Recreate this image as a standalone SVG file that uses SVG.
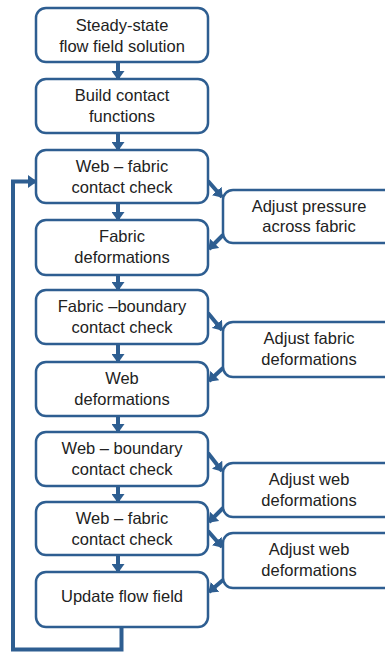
<svg xmlns="http://www.w3.org/2000/svg" width="385" height="652" viewBox="0 0 385 652">
<defs>
<style>
.box{fill:#fff;stroke:#2E5E91;stroke-width:2.5}
.t{font-family:"Liberation Sans",Arial,sans-serif;font-size:16.5px;fill:#222;text-anchor:middle}
.c{fill:none;stroke:#2E5E91;stroke-width:4}
</style>
<marker id="ah" markerUnits="userSpaceOnUse" markerWidth="9" markerHeight="13" viewBox="0 0 9 13" refX="8" refY="6.5" orient="auto">
<path d="M0,0 L9,6.5 L0,13 z" fill="#2E5E91"/>
</marker>
</defs>
<rect width="385" height="652" fill="#fff"/>
<g id="connectors">
<line class="c" x1="118" y1="62" x2="118" y2="79" marker-end="url(#ah)"/>
<line class="c" x1="118" y1="133" x2="118" y2="150" marker-end="url(#ah)"/>
<line class="c" x1="118" y1="203" x2="118" y2="220" marker-end="url(#ah)"/>
<line class="c" x1="118" y1="275" x2="118" y2="290" marker-end="url(#ah)"/>
<line class="c" x1="118" y1="344" x2="118" y2="362" marker-end="url(#ah)"/>
<line class="c" x1="118" y1="416" x2="118" y2="432" marker-end="url(#ah)"/>
<line class="c" x1="118" y1="486" x2="118" y2="502" marker-end="url(#ah)"/>
<line class="c" x1="118" y1="555" x2="118" y2="572" marker-end="url(#ah)"/>
<line class="c" x1="208" y1="181" x2="222" y2="197" marker-end="url(#ah)"/>
<line class="c" x1="223" y1="235" x2="209" y2="249" marker-end="url(#ah)"/>
<line class="c" x1="208" y1="313" x2="222" y2="330" marker-end="url(#ah)"/>
<line class="c" x1="223" y1="368" x2="209" y2="381" marker-end="url(#ah)"/>
<line class="c" x1="208" y1="453" x2="222" y2="471" marker-end="url(#ah)"/>
<line class="c" x1="223" y1="508" x2="209" y2="522" marker-end="url(#ah)"/>
<line class="c" x1="208" y1="531" x2="222" y2="547" marker-end="url(#ah)"/>
<line class="c" x1="223" y1="580" x2="209" y2="592" marker-end="url(#ah)"/>
<path class="c" d="M121.5,627 V649.5 H13 V181.5 H36" marker-end="url(#ah)"/>
</g>
<g id="n1"><rect class="box" x="36" y="8" width="172" height="54" rx="10"/><text class="t" x="122" y="31">Steady-state</text><text class="t" x="122" y="52">flow field solution</text></g>
<g id="n2"><rect class="box" x="36" y="79" width="172" height="54" rx="10"/><text class="t" x="122" y="101">Build contact</text><text class="t" x="122" y="122">functions</text></g>
<g id="n3"><rect class="box" x="36" y="150" width="172" height="53" rx="10"/><text class="t" x="122" y="171.5">Web – fabric</text><text class="t" x="122" y="192.5">contact check</text></g>
<g id="n4"><rect class="box" x="36" y="220" width="172" height="55" rx="10"/><text class="t" x="122" y="241.5">Fabric</text><text class="t" x="122" y="262.5">deformations</text></g>
<g id="n5"><rect class="box" x="36" y="290" width="172" height="54" rx="10"/><text class="t" x="122" y="311.5">Fabric –boundary</text><text class="t" x="122" y="332.5">contact check</text></g>
<g id="n6"><rect class="box" x="36" y="362" width="172" height="54" rx="10"/><text class="t" x="122" y="383.5">Web</text><text class="t" x="122" y="404.5">deformations</text></g>
<g id="n7"><rect class="box" x="36" y="432" width="172" height="54" rx="10"/><text class="t" x="122" y="453.5">Web – boundary</text><text class="t" x="122" y="474.5">contact check</text></g>
<g id="n8"><rect class="box" x="36" y="502" width="172" height="53" rx="10"/><text class="t" x="122" y="523.5">Web – fabric</text><text class="t" x="122" y="544.5">contact check</text></g>
<g id="n9"><rect class="box" x="36" y="572" width="172" height="55" rx="10"/><text class="t" x="122" y="601.5">Update flow field</text></g>
<g id="a1"><rect class="box" x="223" y="190" width="172" height="53" rx="10"/><text class="t" x="309" y="211.5">Adjust pressure</text><text class="t" x="309" y="231.5">across fabric</text></g>
<g id="a2"><rect class="box" x="223" y="322" width="172" height="55" rx="10"/><text class="t" x="309" y="343.5">Adjust fabric</text><text class="t" x="309" y="364.5">deformations</text></g>
<g id="a3"><rect class="box" x="223" y="463" width="172" height="54" rx="10"/><text class="t" x="309" y="484.5">Adjust web</text><text class="t" x="309" y="505.5">deformations</text></g>
<g id="a4"><rect class="box" x="223" y="533" width="172" height="55" rx="10"/><text class="t" x="309" y="555">Adjust web</text><text class="t" x="309" y="576">deformations</text></g>
</svg>
